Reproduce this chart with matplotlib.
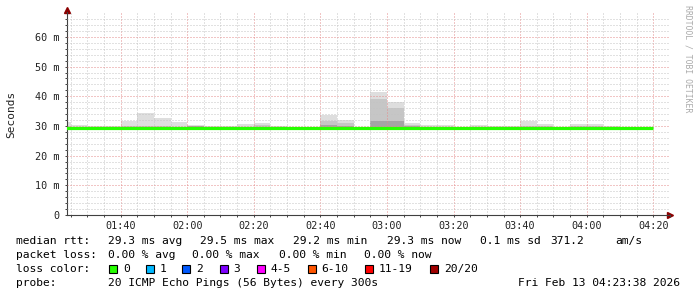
import numpy as np
import matplotlib
matplotlib.use("Agg")
import matplotlib.pyplot as plt
from matplotlib.patches import Rectangle

W, H = 697, 297

# 5-minute bins, minutes after midnight (01:20 .. 04:15)
bin_start = np.arange(80, 260, 5)

rtt_min = [28.9] * 36
rtt_max = [31.4, 30.3, 29.9, 30.0, 31.8, 34.5, 32.8, 31.3, 30.3, 29.9, 29.9, 30.6,
           31.0, 30.0, 29.7, 29.3, 33.8, 31.9, 29.6, 41.5, 38.1, 31.0, 30.3, 30.3,
           29.8, 30.3, 29.9, 29.9, 31.8, 30.7, 29.8, 30.8, 30.5, 29.9, 29.7, 29.6]
rtt_upper = [30.0, 29.8, 29.6, 29.7, 29.9, 30.0, 29.9, 29.8, 30.1, 29.7, 29.6, 29.8,
             30.2, 29.8, 29.5, 29.2, 31.8, 31.0, 29.5, 39.0, 36.1, 30.4, 29.8, 29.7,
             29.6, 29.8, 29.6, 29.6, 29.9, 30.0, 29.6, 30.0, 29.9, 29.7, 29.5, 29.4]
rtt_lower = [29.6, 29.5, 29.4, 29.5, 29.5, 29.6, 29.6, 29.5, 29.9, 29.5, 29.4, 29.5,
             29.6, 29.6, 29.4, 29.1, 30.4, 30.0, 29.4, 31.7, 31.6, 29.9, 29.6, 29.5,
             29.4, 29.5, 29.4, 29.4, 29.6, 29.7, 29.4, 29.6, 29.6, 29.5, 29.4, 29.3]
median = [29.4, 29.4, 29.3, 29.4, 29.3, 29.3, 29.4, 29.4, 29.3, 29.3, 29.3, 29.3,
          29.3, 29.3, 29.4, 29.2, 29.4, 29.4, 29.3, 29.3, 29.4, 29.4, 29.3, 29.3,
          29.3, 29.3, 29.3, 29.3, 29.4, 29.3, 29.3, 29.4, 29.4, 29.3, 29.3, 29.3]

loss_labels = ["0", "1", "2", "3", "4-5", "6-10", "11-19", "20/20"]
loss_colors = ["#26ff00", "#00b8ff", "#0059ff", "#7e00ff", "#ff00ff", "#ff5500", "#ff0000", "#a00000"]

plt.rcParams["font.family"] = "DejaVu Sans Mono"


def px(x, y):
    return x / W, 1 - y / H


fig = plt.figure(figsize=(W / 100, H / 100), dpi=100)
ax = fig.add_axes([67 / W, (H - 215) / H, (670 - 67) / W, 203 / H])
ax.set_xlim(83.9, 265.0)
ax.set_ylim(0, 68.4)

bot = np.array(rtt_min)
ax.bar(bin_start, np.array(rtt_max) - bot, width=5, bottom=bot, align="edge", color="#dedede", lw=0, zorder=1)
ax.bar(bin_start, np.array(rtt_upper) - bot, width=5, bottom=bot, align="edge", color="#c6c6c6", lw=0, zorder=1.1)
ax.bar(bin_start, np.array(rtt_lower) - bot, width=5, bottom=bot, align="edge", color="#a4a4a4", lw=0, zorder=1.2)
edges = np.append(bin_start, bin_start[-1] + 5)
ax.stairs(median, edges, baseline=None, color="#26ff00", lw=2.3, zorder=3)

ax.set_xticks(np.arange(100, 261, 20))
ax.set_xticks(np.arange(85, 266, 5), minor=True)
ax.set_xticklabels([f"{m // 60:02d}:{m % 60:02d}" for m in range(100, 261, 20)])
ax.set_yticks(np.arange(0, 61, 10))
ax.set_yticks(np.arange(0, 68, 2), minor=True)
ax.set_yticklabels(["0"] + [f"{v} m" for v in range(10, 61, 10)])

ax.set_axisbelow(False)
ax.grid(which="minor", color="#c4c4c4", lw=0.72, ls=(0, (1, 2)))
ax.grid(which="major", color="#e48c8c", lw=0.72, ls=(0, (1, 2)))

for s in ["top", "right"]:
    ax.spines[s].set_visible(False)
for s in ["left", "bottom"]:
    ax.spines[s].set_color("#404040")
    ax.spines[s].set_linewidth(0.8)
ax.tick_params(which="both", direction="out", length=1.5, width=0.7, color="#404040",
               labelsize=7.3, labelcolor="#222222")
ax.tick_params(axis="y", pad=3.6)
ax.tick_params(axis="x", pad=2.9)

# arrows on axes
ax.plot([0], [1.01], marker="^", ms=4, color="#8b0000", transform=ax.transAxes, clip_on=False)
ax.plot([1.0], [0], marker=">", ms=4, color="#8b0000", transform=ax.transAxes, clip_on=False)

fig.text(*px(11, 114), "Seconds", rotation=90, ha="center", va="center", fontsize=8, color="#222222")
fig.text(*px(688, 5), "RRDTOOL / TOBI OETIKER", rotation=-90, ha="center", va="top",
         fontsize=5.9, color="#aaaaaa")

fs = 8.1
line1 = [(16, "median rtt:"), (107.6, "29.3 ms avg"), (200, "29.5 ms max"), (293, "29.2 ms min"),
         (387, "29.3 ms now"), (480, "0.1 ms sd"), (550, "371.2"), (615, "am/s")]
line2 = [(16, "packet loss:"), (107.6, "0.00 % avg"), (192, "0.00 % max"), (279, "0.00 % min"),
         (364, "0.00 % now")]
for x, t in line1:
    fig.text(*px(x, 241), t, ha="left", va="center", fontsize=fs)
for x, t in line2:
    fig.text(*px(x, 255.5), t, ha="left", va="center", fontsize=fs)

fig.text(*px(16, 269), "loss color:", ha="left", va="center", fontsize=fs)
box_x = [109, 146, 182, 219.5, 256.5, 307.5, 365, 430]
for bx, lab, col in zip(box_x, loss_labels, loss_colors):
    fig.add_artist(Rectangle(px(bx, 273), 8 / W, 8 / H, transform=fig.transFigure,
                             facecolor=col, edgecolor="black", lw=0.8))
    fig.text(*px(bx + 14, 269), lab, ha="left", va="center", fontsize=fs)

fig.text(*px(16, 283.5), "probe:", ha="left", va="center", fontsize=fs)
fig.text(*px(107.6, 283.5), "20 ICMP Echo Pings (56 Bytes) every 300s", ha="left", va="center", fontsize=fs)
fig.text(*px(680, 283.5), "Fri Feb 13 04:23:38 2026", ha="right", va="center", fontsize=fs)

fig.savefig("out.png", dpi=100)
